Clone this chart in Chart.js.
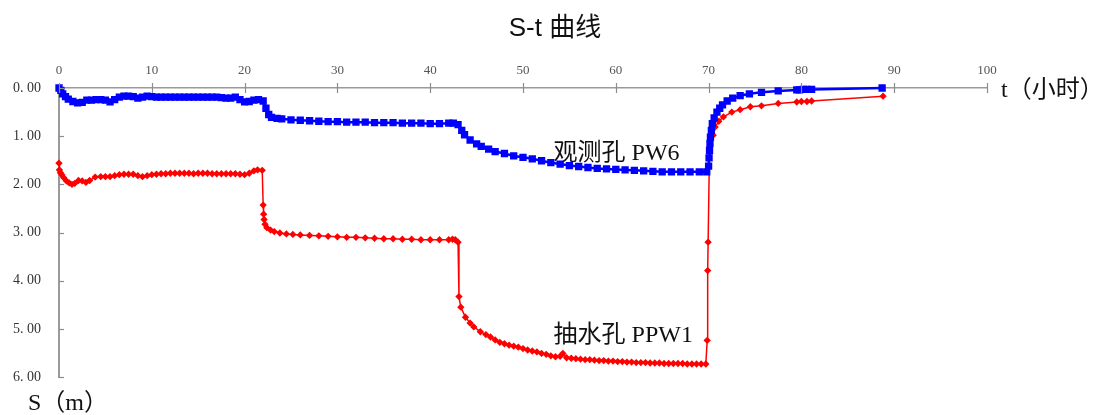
<!DOCTYPE html>
<html>
<head>
<meta charset="utf-8">
<script src="https://cdn.jsdelivr.net/npm/chart.js@4.4.1/dist/chart.umd.min.js"></script>
<style>
  html, body { margin: 0; padding: 0; background: #fff; }
  #wrap { width: 1107px; height: 415px; position: relative; }
</style>
</head>
<body>
<div id="wrap"><canvas id="st"></canvas></div>
<script>
// x tick values (hours) and y tick values (drawdown, m)
const xTicks = [0, 10, 20, 30, 40, 50, 60, 70, 80, 90, 100];
const yTicks = [0, 1, 2, 3, 4, 5, 6];

// 观测孔 PW6 - time (h) / drawdown (m)
const pw6T = [0, 0.2, 0.4, 0.7, 1.0, 1.5, 2.0, 2.5, 3.0, 3.5, 4.0, 4.5, 5.0, 5.5, 6.0, 6.5, 7.0, 7.5, 8.0, 8.5, 9.0, 9.5, 10.0,
  10.5, 11.0, 11.5, 12.0, 12.5, 13.0, 13.5, 14.0, 14.5, 15.0, 15.5, 16.0, 16.5, 17.0, 17.5, 18.0, 18.5, 19.0, 19.5, 20.0, 20.5, 21.0, 21.5, 22.0,
  22.3, 22.6, 22.9, 23.5, 24.0, 25.0, 26.0, 27.0, 28.0, 29.0, 30.0, 31.0, 32.0, 33.0, 34.0, 35.0, 36.0, 37.0, 38.0, 39.0, 40.0, 41.0, 42.0, 42.5,
  43.0, 43.4, 43.7, 44.3, 45.0, 45.5, 46.3, 47.0, 48.0, 49.0, 50.0, 51.0, 52.0, 53.0, 54.0, 55.0, 56.0, 57.0, 58.0, 59.0, 60.0,
  61.0, 62.0, 63.0, 64.0, 65.0, 66.0, 67.0, 68.0, 69.0, 69.8,
  70.0, 70.05, 70.1, 70.15, 70.2, 70.3, 70.4, 70.6, 70.9, 71.2, 71.5, 72.0, 72.6, 73.4, 74.4, 75.7, 77.5, 79.5, 79.8, 80.2, 80.6, 81.1, 88.7];
const pw6S = [0.00, 0.05, 0.12, 0.18, 0.23, 0.28, 0.31, 0.30, 0.25, 0.25, 0.24, 0.24, 0.25, 0.29, 0.24, 0.19, 0.17, 0.17, 0.18, 0.21, 0.19, 0.17, 0.18,
  0.19, 0.19, 0.19, 0.19, 0.19, 0.19, 0.19, 0.19, 0.19, 0.19, 0.19, 0.19, 0.19, 0.19, 0.20, 0.21, 0.21, 0.19, 0.24, 0.29, 0.28, 0.25, 0.24, 0.27,
  0.42, 0.55, 0.61, 0.63, 0.64, 0.66, 0.67, 0.68, 0.69, 0.70, 0.70, 0.71, 0.71, 0.71, 0.72, 0.72, 0.72, 0.73, 0.73, 0.73, 0.74, 0.74, 0.73, 0.73,
  0.76, 0.88, 0.97, 1.08, 1.16, 1.21, 1.27, 1.32, 1.36, 1.41, 1.44, 1.47, 1.51, 1.55, 1.58, 1.61, 1.63, 1.65, 1.67, 1.68, 1.69,
  1.70, 1.71, 1.72, 1.73, 1.74, 1.74, 1.74, 1.74, 1.74, 1.74,
  1.62, 1.45, 1.30, 1.15, 1.02, 0.88, 0.74, 0.62, 0.50, 0.42, 0.35, 0.27, 0.21, 0.16, 0.12, 0.09, 0.06, 0.04, 0.04, 0.03, 0.03, 0.03, 0.00];

// 抽水孔 PPW1 - time (h) / drawdown (m)
const ppw1T = [0, 0.05, 0.15, 0.3, 0.5, 0.8, 1.1, 1.4, 1.7, 2.1, 2.5, 2.9, 3.3, 3.9, 4.5, 5.0, 5.5, 6.0, 6.5, 7.0, 7.5, 8.0, 8.5, 9.0, 9.5, 10.0,
  10.5, 11.0, 11.5, 12.0, 12.5, 13.0, 13.5, 14.0, 14.5, 15.0, 15.5, 16.0, 16.5, 17.0, 17.5, 18.0, 18.5, 19.0, 19.5, 20.0, 20.5, 21.0, 21.4, 21.9,
  22.0, 22.05, 22.1, 22.2, 22.4, 22.8, 23.2, 23.8, 24.5, 25.2, 26.0, 27.0, 28.0, 29.0, 30.0, 31.0, 32.0, 33.0, 34.0, 35.0, 36.0, 37.0, 38.0,
  39.0, 40.0, 41.0, 42.0, 42.4, 42.7, 43.0, 43.1, 43.3, 43.8, 44.3, 44.7, 45.4, 46.0, 46.5, 47.0, 47.5, 48.0, 48.5, 49.0, 49.5, 50.0, 50.5,
  51.0, 51.5, 52.0, 52.5, 53.0, 53.5, 54.0, 54.3, 54.7, 55.2, 55.7, 56.2, 56.7, 57.2, 57.7, 58.2, 58.7, 59.2, 59.7, 60.2, 60.7, 61.2, 61.7,
  62.2, 62.7, 63.2, 63.7, 64.2, 64.7, 65.2, 65.7, 66.2, 66.7, 67.2, 67.7, 68.2, 68.7, 69.2, 69.7,
  69.85, 69.9, 69.95, 70.1, 70.5, 70.7, 71.1, 71.6, 72.5, 73.4, 74.5, 75.7, 77.5, 79.5, 80.0, 80.6, 81.1, 88.8];
const ppw1S = [1.56, 1.70, 1.76, 1.80, 1.86, 1.93, 1.97, 2.00, 1.98, 1.92, 1.93, 1.96, 1.92, 1.85, 1.84, 1.84, 1.84, 1.82, 1.80, 1.79, 1.79, 1.79, 1.82, 1.84, 1.82, 1.80,
  1.79, 1.78, 1.78, 1.77, 1.77, 1.77, 1.77, 1.77, 1.78, 1.77, 1.77, 1.77, 1.78, 1.78, 1.78, 1.78, 1.78, 1.78, 1.79, 1.80, 1.77, 1.72, 1.70, 1.71,
  2.43, 2.62, 2.73, 2.83, 2.90, 2.95, 2.98, 3.01, 3.03, 3.04, 3.05, 3.06, 3.07, 3.08, 3.09, 3.10, 3.10, 3.11, 3.12, 3.13, 3.13, 3.14, 3.14,
  3.15, 3.15, 3.15, 3.15, 3.14, 3.15, 3.20, 4.33, 4.55, 4.76, 4.88, 4.96, 5.06, 5.12, 5.17, 5.23, 5.28, 5.31, 5.34, 5.36, 5.38, 5.41, 5.44,
  5.46, 5.48, 5.51, 5.53, 5.56, 5.58, 5.57, 5.51, 5.60, 5.61, 5.62, 5.63, 5.64, 5.64, 5.65, 5.66, 5.66, 5.67, 5.67, 5.68, 5.68, 5.69, 5.69,
  5.70, 5.70, 5.70, 5.71, 5.71, 5.71, 5.72, 5.72, 5.72, 5.72, 5.72, 5.73, 5.73, 5.73, 5.73, 5.73,
  5.24, 3.79, 3.20, 1.23, 0.98, 0.81, 0.69, 0.60, 0.50, 0.45, 0.39, 0.37, 0.32, 0.29, 0.28, 0.28, 0.27, 0.17];

const toPoints = (ts, ss) => ts.map((t, i) => ({ x: t, y: ss[i] }));

const serif = '"Liberation Serif", "Noto Sans CJK SC", serif';

// axis tick marks + all the loose text (title, axis names, curve names)
const decor = {
  id: 'decor',
  afterDraw(chart) {
    const ctx = chart.ctx;
    const xs = chart.scales.x, ys = chart.scales.y;
    const ca = chart.chartArea;
    ctx.save();
    ctx.strokeStyle = '#8c8c8c';
    ctx.lineWidth = 1.2;
    xTicks.forEach(v => {
      const px = Math.round(xs.getPixelForValue(v)) + 0.5;
      ctx.beginPath();
      ctx.moveTo(px, ca.top - 5);
      ctx.lineTo(px, ca.top + 5);
      ctx.stroke();
    });
    yTicks.forEach(v => {
      const py = Math.round(ys.getPixelForValue(v)) + 0.5;
      ctx.beginPath();
      ctx.moveTo(ca.left, py);
      ctx.lineTo(ca.left + 5, py);
      ctx.stroke();
    });

    ctx.fillStyle = '#111';
    ctx.textBaseline = 'middle';
    ctx.textAlign = 'center';
    ctx.font = '26px "Liberation Sans", "Noto Sans CJK SC", sans-serif';
    ctx.fillText('S-t 曲线', 555, 29);

    ctx.textAlign = 'left';
    ctx.font = '24px ' + serif;
    ctx.fillText('t（小时）', 1001, 91);
    ctx.fillText('S（m）', 28, 404);

    ctx.font = '24px ' + serif;
    ctx.fillText('观测孔 PW6', xs.getPixelForValue(53.3), ys.getPixelForValue(1.36));
    ctx.fillText('抽水孔 PPW1', xs.getPixelForValue(53.3), ys.getPixelForValue(5.14));
    ctx.restore();
  }
};

new Chart(document.getElementById('st'), {
  type: 'scatter',
  data: {
    datasets: [{
      label: '观测孔 PW6',
      data: toPoints(pw6T, pw6S),
      showLine: true,
      borderColor: '#0000ff',
      backgroundColor: '#0000ff',
      borderWidth: 2.5,
      pointStyle: 'rect',
      pointRadius: 3.4,
      pointHoverRadius: 3.4,
      clip: false
    }, {
      label: '抽水孔 PPW1',
      data: toPoints(ppw1T, ppw1S),
      showLine: true,
      borderColor: '#ff0000',
      backgroundColor: '#ff0000',
      borderWidth: 1.5,
      pointStyle: 'rectRot',
      pointRadius: 2.6,
      pointHoverRadius: 2.6,
      clip: false
    }]
  },
  options: {
    responsive: true,
    maintainAspectRatio: false,
    animation: false,
    layout: {
      padding: { left: 9, top: 43, right: 120, bottom: 38 }
    },
    plugins: {
      legend: { display: false },
      tooltip: { enabled: false },
      title: { display: false }
    },
    scales: {
      x: {
        type: 'linear',
        position: 'top',
        min: 0,
        max: 100,
        afterFit: (scale) => { scale.height = 45; },
        afterBuildTicks: (scale) => { scale.ticks = xTicks.map(v => ({ value: v })); },
        grid: { display: false },
        border: { display: true, color: '#9a9a9a', width: 1.5 },
        ticks: {
          color: '#555',
          padding: 2,
          maxRotation: 0,
          font: { family: serif, size: 13 }
        }
      },
      y: {
        type: 'linear',
        reverse: true,
        min: 0,
        max: 6,
        afterFit: (scale) => { scale.width = 50; },
        afterBuildTicks: (scale) => { scale.ticks = yTicks.map(v => ({ value: v })); },
        grid: { display: false },
        border: { display: true, color: '#9a9a9a', width: 2 },
        ticks: {
          color: '#333',
          padding: 10,
          font: { family: serif, size: 14 },
          callback: (v) => Number(v).toFixed(2).replace('.', '. ')
        }
      }
    }
  },
  plugins: [decor]
});
</script>
</body>
</html>
